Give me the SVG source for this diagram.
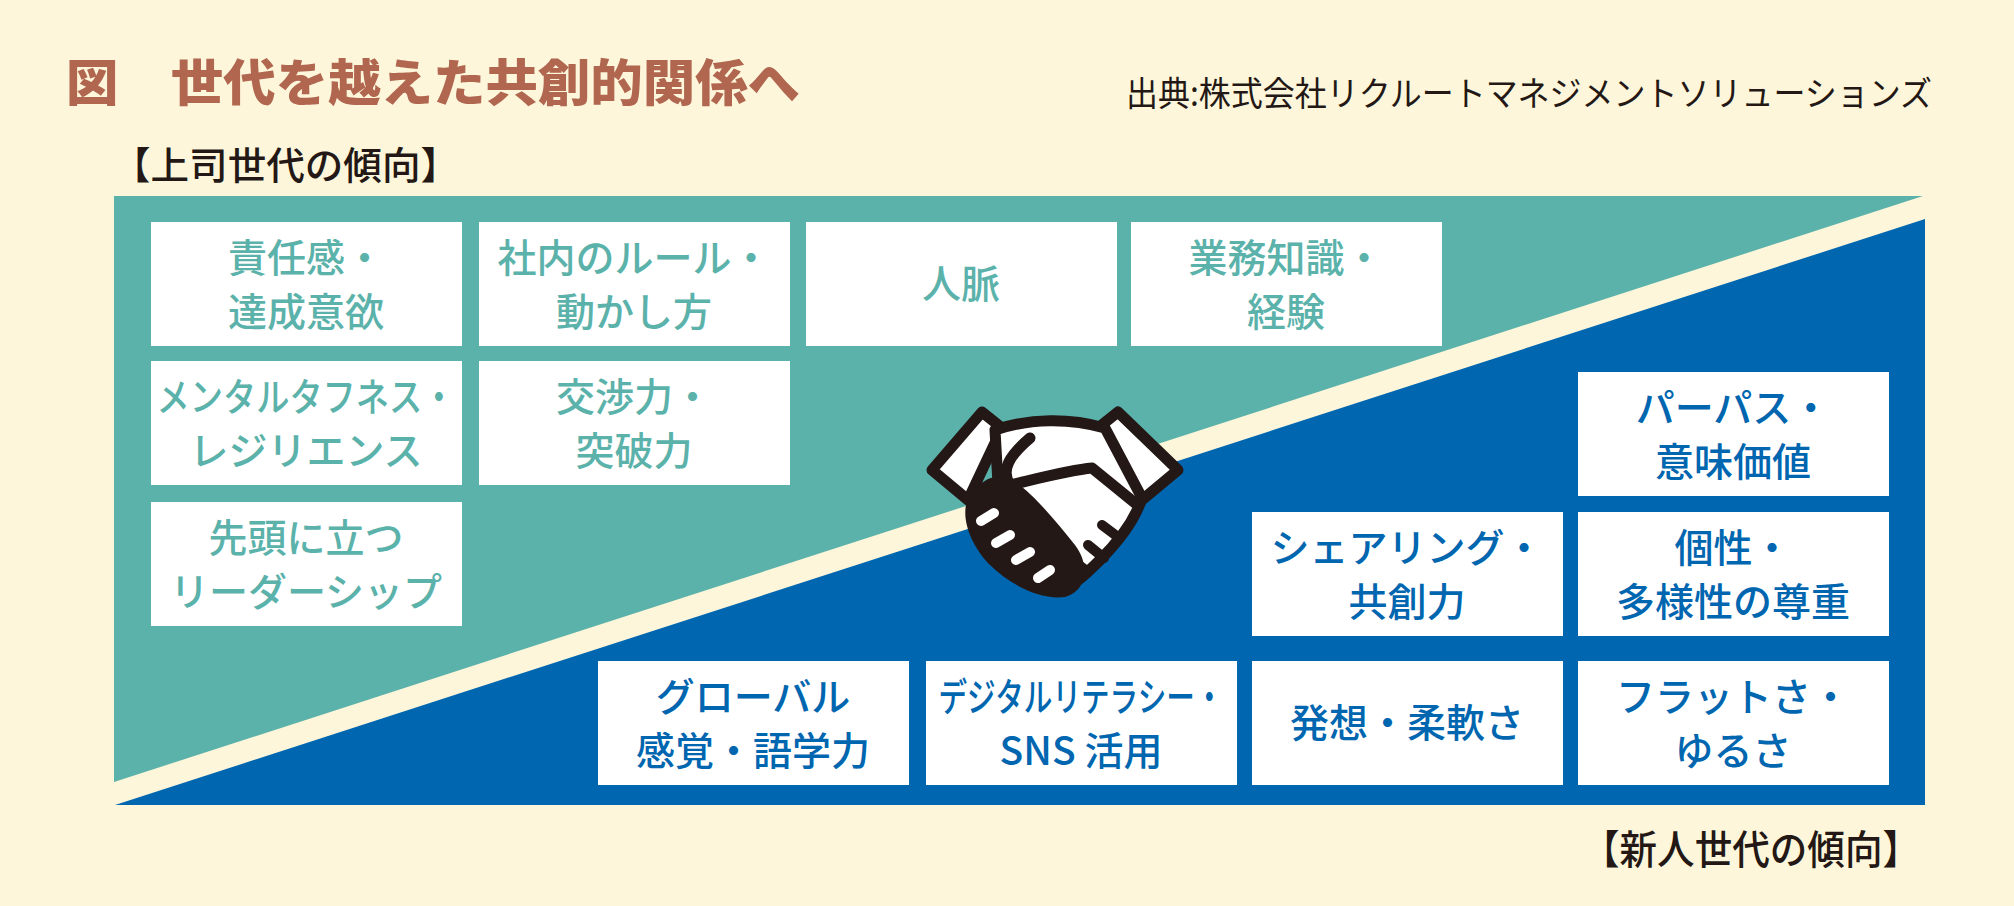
<svg xmlns="http://www.w3.org/2000/svg" width="2014" height="906" viewBox="0 0 2014 906">
<style>
.bg{fill:#fdf6da}
.box{fill:#ffffff}
.t{font-family:"Noto Sans CJK JP","Noto Sans",sans-serif;font-size:39px;font-weight:500;text-anchor:middle}
.tg{fill:#5bb2aa}
.tb{fill:#0066b0}
.dk{fill:#231815}
.ol{stroke:#231815;stroke-width:11;stroke-linejoin:round;stroke-linecap:round}
</style>
<rect class="bg" x="0" y="0" width="2014" height="906"/>
<text x="66" y="101" font-family="'Noto Sans CJK JP',sans-serif" font-size="50" font-weight="900" fill="#b0664f" textLength="734" lengthAdjust="spacingAndGlyphs">図　世代を越えた共創的関係へ</text>
<text x="1126" y="106" class="dk" font-family="'Noto Sans CJK JP',sans-serif" font-size="34" textLength="806" lengthAdjust="spacingAndGlyphs">出典:株式会社リクルートマネジメントソリューションズ</text>
<text x="112" y="179" class="dk" font-family="'Noto Sans CJK JP',sans-serif" font-size="38" font-weight="500" textLength="347" lengthAdjust="spacingAndGlyphs">【上司世代の傾向】</text>
<text x="1582" y="864" class="dk" font-family="'Noto Sans CJK JP',sans-serif" font-size="40" font-weight="500" textLength="338" lengthAdjust="spacingAndGlyphs">【新人世代の傾向】</text>
<g id="panels">
<polygon points="114,196 1923,196 114,782" fill="#5bb2aa"/>
<polygon points="115,805 1925,219 1925,805" fill="#0066b0"/>
</g>
<g id="n1"><rect class="box" x="151" y="222" width="311" height="124"/><text class="t tg" x="306" y="272">責任感・</text><text class="t tg" x="306" y="326">達成意欲</text></g>
<g id="n2"><rect class="box" x="479" y="222" width="311" height="124"/><text class="t tg" x="634" y="272">社内のルール・</text><text class="t tg" x="634" y="326">動かし方</text></g>
<g id="n3"><rect class="box" x="806" y="222" width="311" height="124"/><text class="t tg" x="961" y="298">人脈</text></g>
<g id="n4"><rect class="box" x="1131" y="222" width="311" height="124"/><text class="t tg" x="1286" y="272">業務知識・</text><text class="t tg" x="1286" y="326">経験</text></g>
<g id="n5"><rect class="box" x="151" y="361" width="311" height="124"/><text class="t tg" x="306" y="411" textLength="299" lengthAdjust="spacingAndGlyphs">メンタルタフネス・</text><text class="t tg" x="306" y="465">レジリエンス</text></g>
<g id="n6"><rect class="box" x="479" y="361" width="311" height="124"/><text class="t tg" x="634" y="411">交渉力・</text><text class="t tg" x="634" y="465">突破力</text></g>
<g id="n7"><rect class="box" x="151" y="502" width="311" height="124"/><text class="t tg" x="306" y="552">先頭に立つ</text><text class="t tg" x="306" y="606">リーダーシップ</text></g>
<g id="n8"><rect class="box" x="1578" y="372" width="311" height="124"/><text class="t tb" x="1733" y="422">パーパス・</text><text class="t tb" x="1733" y="476">意味価値</text></g>
<g id="n9"><rect class="box" x="1252" y="512" width="311" height="124"/><text class="t tb" x="1407" y="562">シェアリング・</text><text class="t tb" x="1407" y="616">共創力</text></g>
<g id="n10"><rect class="box" x="1578" y="512" width="311" height="124"/><text class="t tb" x="1733" y="562">個性・</text><text class="t tb" x="1733" y="616">多様性の尊重</text></g>
<g id="n11"><rect class="box" x="598" y="661" width="311" height="124"/><text class="t tb" x="753" y="711">グローバル</text><text class="t tb" x="753" y="765">感覚・語学力</text></g>
<g id="n12"><rect class="box" x="926" y="661" width="311" height="124"/><text class="t tb" x="1081" y="711" textLength="285" lengthAdjust="spacingAndGlyphs">デジタルリテラシー・</text><text class="t tb" x="1081" y="765">SNS 活用</text></g>
<g id="n13"><rect class="box" x="1252" y="661" width="311" height="124"/><text class="t tb" x="1407" y="737">発想・柔軟さ</text></g>
<g id="n14"><rect class="box" x="1578" y="661" width="311" height="124"/><text class="t tb" x="1733" y="711">フラットさ・</text><text class="t tb" x="1733" y="765">ゆるさ</text></g>
<g id="handshake">
<polygon class="ol" points="932,470 982,412 1002,428 968,500" fill="#fff"/>
<polygon class="ol" points="1178,470 1118,412 1098,428 1142,500" fill="#fff"/>
<path class="ol" fill="#fff" d="M995,430 C1030,418 1070,418 1105,428 L1142,498 C1135,520 1120,540 1100,560 C1085,575 1075,585 1060,588 L1000,520 Z"/>
<path class="dk" d="M966,505 C975,482 995,470 1012,480 C1030,490 1055,520 1075,545 C1090,565 1088,590 1065,597 C1040,600 1010,585 990,565 C975,550 962,525 966,505 Z"/>
<g stroke="#fff" stroke-width="10" stroke-linecap="round">
<line x1="981" y1="521" x2="994" y2="513"/>
<line x1="996" y1="543" x2="1010" y2="535"/>
<line x1="1016" y1="560" x2="1030" y2="552"/>
<line x1="1038" y1="578" x2="1050" y2="570"/>
</g>
<path fill="none" stroke="#231815" stroke-width="11" stroke-linecap="round" stroke-linejoin="round" d="M1030,438 C1010,455 1000,470 1010,485 C1040,478 1070,470 1092,468 L1135,503"/>
<path fill="none" stroke="#231815" stroke-width="10" stroke-linecap="round" d="M1102,525 L1118,537 M1088,545 L1104,558 M1075,562 L1088,572"/>
</g>
</svg>
